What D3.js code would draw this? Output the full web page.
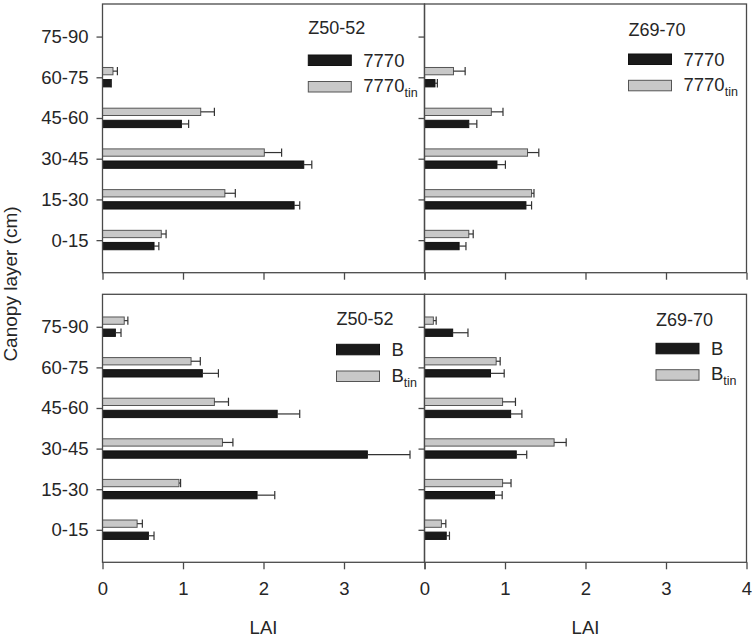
<!DOCTYPE html>
<html><head><meta charset="utf-8">
<script src="https://cdn.jsdelivr.net/npm/d3@7"></script>
<style>
body{margin:0;background:#fff;}
svg{display:block;font-family:"Liberation Sans",Arial,sans-serif;}
</style></head><body>
<svg id="c" width="756" height="638"></svg>
<script>
// ---- data ----
const categories = ["0-15","15-30","30-45","45-60","60-75","75-90"];
const xTicks = [0,1,2,3,4];
const stageLabels = ["Z50-52","Z69-70"];

// top row: 7770 (black) and 7770tin (grey)
const tlBlack    = [0.64, 2.38, 2.50, 0.98, 0.10, null];
const tlBlackErr = [0.06, 0.07, 0.10, 0.09, 0.01, null];
const tlGrey     = [0.73, 1.52, 2.01, 1.22, 0.13, null];
const tlGreyErr  = [0.06, 0.13, 0.215, 0.17, 0.055, null];

const trBlack    = [0.43, 1.26, 0.90, 0.55, 0.13, null];
const trBlackErr = [0.085, 0.07, 0.105, 0.10, 0.03, null];
const trGrey     = [0.55, 1.33, 1.28, 0.83, 0.36, null];
const trGreyErr  = [0.055, 0.03, 0.14, 0.145, 0.145, null];

// bottom row: B (black) and Btin (grey)
const blBlack    = [0.57, 1.92, 3.29, 2.17, 1.24, 0.16];
const blBlackErr = [0.07, 0.22, 0.53, 0.28, 0.20, 0.07];
const blGrey     = [0.43, 0.95, 1.49, 1.39, 1.10, 0.27];
const blGreyErr  = [0.065, 0.02, 0.13, 0.175, 0.115, 0.045];

const brBlack    = [0.27, 0.87, 1.14, 1.07, 0.82, 0.35];
const brBlackErr = [0.04, 0.095, 0.13, 0.14, 0.17, 0.19];
const brGrey     = [0.21, 0.97, 1.61, 0.97, 0.89, 0.11];
const brGreyErr  = [0.055, 0.105, 0.15, 0.16, 0.05, 0.035];

// ---- layout ----
const svg = d3.select("#c");
const lineCol = "#4a4a4a", textCol = "#262626";
const blackFill = "#1a1a1a", greyFill = "#c8c8c8";
const cols = [[102.5, 424.5],[424.5, 746.5]];
const rows = [[4, 272.7],[294.3, 562.3]];
const fs = 18.5;

const panels = [
  {r:0,c:0,black:tlBlack,be:tlBlackErr,grey:tlGrey,ge:tlGreyErr,name:"7770",
   leg:{x:308.3,ty:34.3,by:55,gy:81.5}},
  {r:0,c:1,black:trBlack,be:trBlackErr,grey:trGrey,ge:trGreyErr,name:"7770",
   leg:{x:628.5,ty:35.5,by:54,gy:80.3}},
  {r:1,c:0,black:blBlack,be:blBlackErr,grey:blGrey,ge:blGreyErr,name:"B",
   leg:{x:336.5,ty:325,by:344.3,gy:371}},
  {r:1,c:1,black:brBlack,be:brBlackErr,grey:brGrey,ge:brGreyErr,name:"B",
   leg:{x:656,ty:325.5,by:343.3,gy:369.7}}
];

const barH = 7.3;

panels.forEach(p => {
  const [x0,x1] = cols[p.c], [y0,y1] = rows[p.r];
  const x = d3.scaleLinear().domain([0,4]).range([x0,x1]);
  const y = d3.scalePoint().domain(categories).range([y1,y0]).padding(0.8);
  const g = svg.append("g");

  // bars
  const series = [
    {vals:p.grey, err:p.ge, fill:greyFill, stroke:"#555", off:-9.8},
    {vals:p.black, err:p.be, fill:blackFill, stroke:"#111", off:2.3}
  ];
  series.forEach(s => {
    categories.forEach((cat,i) => {
      const v = s.vals[i];
      if (v == null) return;
      const yy = y(cat) + s.off;
      g.append("rect").attr("x", x(0)).attr("y", yy)
        .attr("width", x(v)-x(0)).attr("height", barH)
        .attr("fill", s.fill).attr("stroke", s.stroke).attr("stroke-width", 1);
      const e = s.err[i];
      if (e != null && e > 0) {
        g.append("line").attr("x1", x(v)).attr("x2", x(v+e))
          .attr("y1", yy+barH/2).attr("y2", yy+barH/2)
          .attr("stroke", "#333").attr("stroke-width", 1.2);
        g.append("line").attr("x1", x(v+e)).attr("x2", x(v+e))
          .attr("y1", yy-0.5).attr("y2", yy+barH+0.5)
          .attr("stroke", "#333").attr("stroke-width", 1.2);
      }
    });
  });

  // frame
  g.append("rect").attr("x", x0).attr("y", y0).attr("width", x1-x0).attr("height", y1-y0)
    .attr("fill", "none").attr("stroke", lineCol).attr("stroke-width", 1.3);

  // y axis
  const ya = g.append("g").attr("transform", `translate(${x0},0)`)
    .call(d3.axisLeft(y).tickSize(6).tickPadding(8).tickFormat(p.c===0 ? (d=>d) : ()=>""));
  ya.select(".domain").remove();
  ya.selectAll("line").attr("stroke", lineCol).attr("stroke-width", 1.3);
  ya.selectAll("text").attr("fill", textCol).style("font-size", fs+"px")
    .attr("font-family", '"Liberation Sans",Arial,sans-serif');

  // x axis
  const fmt = p.r===1 ? (d => (p.c===0 && d===4) ? "" : d3.format("d")(d)) : (()=>"");
  const xa = g.append("g").attr("transform", `translate(0,${y1})`)
    .call(d3.axisBottom(x).tickValues(xTicks).tickSize(7).tickPadding(13).tickFormat(fmt));
  xa.select(".domain").remove();
  xa.selectAll("line").attr("stroke", lineCol).attr("stroke-width", 1.3);
  xa.selectAll("text").attr("fill", textCol).style("font-size", fs+"px")
    .attr("font-family", '"Liberation Sans",Arial,sans-serif');

  // legend
  const L = p.leg;
  g.append("text").attr("x", L.x).attr("y", L.ty).attr("fill", textCol)
    .style("font-size", "18px").text(stageLabels[p.c]);
  g.append("rect").attr("x", L.x).attr("y", L.by).attr("width", 43).attr("height", 10.5)
    .attr("fill", blackFill).attr("stroke", "#111");
  g.append("rect").attr("x", L.x).attr("y", L.gy).attr("width", 43).attr("height", 10.5)
    .attr("fill", greyFill).attr("stroke", "#555");
  g.append("text").attr("x", L.x+55).attr("y", L.by+11.8).attr("fill", textCol)
    .style("font-size", fs+"px").text(p.name);
  const t2 = g.append("text").attr("x", L.x+55).attr("y", L.gy+10.5).attr("fill", textCol)
    .style("font-size", fs+"px");
  t2.append("tspan").text(p.name);
  t2.append("tspan").attr("dy", 5).style("font-size", "12.5px").text("tin");

  // x title
  if (p.r===1) {
    svg.append("text").attr("x", (x0+x1)/2).attr("y", 634).attr("text-anchor","middle")
      .attr("fill", textCol).style("font-size", fs+"px").text("LAI");
  }
});

svg.append("text").attr("transform", "translate(17,284) rotate(-90)")
  .attr("text-anchor","middle").attr("fill", textCol).style("font-size", "19px")
  .text("Canopy layer (cm)");
</script>
</body></html>
